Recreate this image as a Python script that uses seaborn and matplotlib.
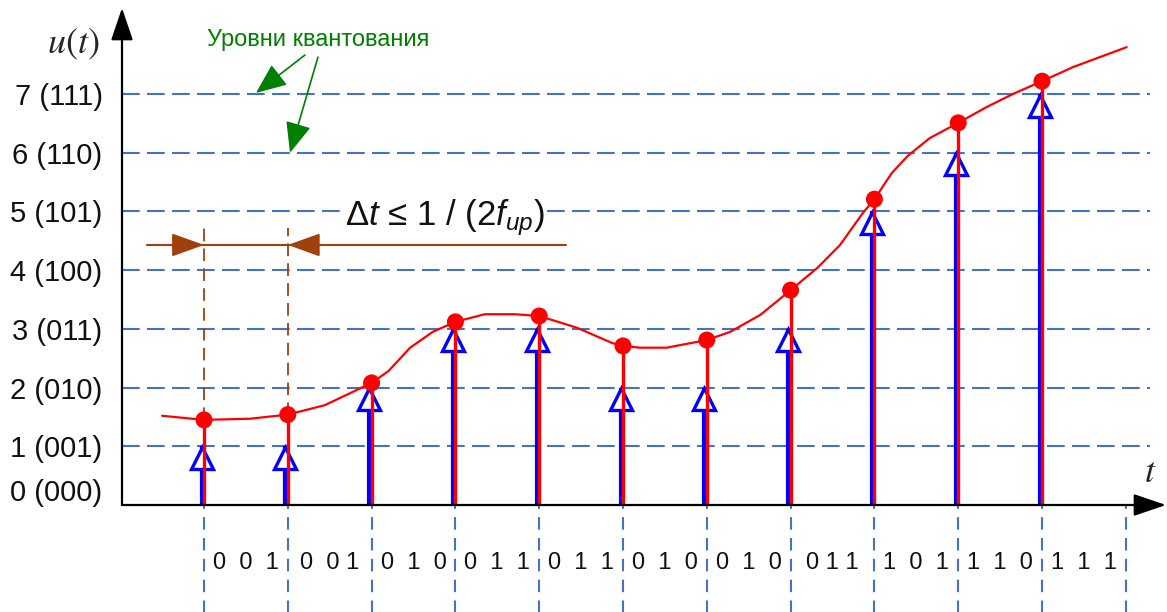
import seaborn as sns
import matplotlib.pyplot as plt
import matplotlib.transforms as mtransforms

sns.set_theme(style="white")
plt.rcParams['font.family'] = ['Liberation Sans', 'DejaVu Sans']
plt.rcParams['mathtext.fontset'] = 'custom'
plt.rcParams['mathtext.rm'] = 'Liberation Sans'
plt.rcParams['mathtext.it'] = 'Liberation Sans:italic'

# отсчёты сигнала
sample_t = [1, 2, 3, 4, 5, 6, 7, 8, 9, 10, 11]
sample_u = [1.45, 1.54, 2.08, 3.12, 3.22, 2.71, 2.81, 3.66, 5.21, 6.51, 7.22]
quant_u = [1, 1, 2, 3, 3, 2, 2, 3, 5, 6, 7]

# непрерывный сигнал u(t)
curve_t = [0.5, 1.0, 1.55, 2.0, 2.44, 2.78, 3.0, 3.2, 3.46, 3.73,
           4.0, 4.35, 4.71, 5.0, 5.45, 5.87, 6.0, 6.2, 6.52, 7.0,
           7.28, 7.64, 8.0, 8.32, 8.59, 8.86, 9.0, 9.21, 9.4, 9.66,
           10.0, 10.34, 10.65, 11.0, 11.37, 12.01]
curve_u = [1.52, 1.45, 1.47, 1.54, 1.70, 1.93, 2.08, 2.28, 2.68, 2.95,
           3.12, 3.25, 3.25, 3.22, 3.02, 2.76, 2.71, 2.68, 2.68, 2.81,
           2.95, 3.24, 3.66, 4.04, 4.43, 4.97, 5.21, 5.66, 5.95, 6.25,
           6.51, 6.78, 7.0, 7.22, 7.46, 7.80]

levels = [0, 1, 2, 3, 4, 5, 6, 7]
level_labels = ["0 (000)", "1 (001)", "2 (010)", "3 (011)", "4 (100)",
                "5 (101)", "6 (110)", "7 (111)"]
bit_labels = ["0  0  1", "0  0 1", "0  1  0", "0  1  1", "0  1  1", "0  1  0",
              "0  1  0", "0 1 1", "1  0  1", "1  1  0", "1  1  1"]

LEVEL_C = '#4472C4'
BROWN = '#A0410D'
GREEN = '#008000'

W, H = 1167, 612
fig = plt.figure(figsize=(W / 100, H / 100), dpi=100)
# оси: начало в (122, 505) px, стрелки до (1166, 8)
ax = fig.add_axes([122 / W, (H - 505) / H, (1166 - 122) / W, (505 - 8) / H])
x_lo = 1 - 82 / 83.8
x_hi = 1 + (1166 - 204) / 83.8
y_hi = (505 - 8) / 58.7
ax.set_xlim(x_lo, x_hi)
ax.set_ylim(0, y_hi)
for s in ax.spines.values():
    s.set_visible(False)
ax.set_xticks([])
ax.set_yticks(levels)
ax.set_yticklabels(level_labels)
ax.tick_params(axis='y', length=0, pad=14, labelsize=21, labelcolor='#111111')
lab0 = ax.get_yticklabels()[0]
lab0.set_transform(lab0.get_transform() + mtransforms.ScaledTranslation(0, 0.15, fig.dpi_scale_trans))
ax.grid(False)

# уровни квантования
ax.hlines(levels[1:], x_lo, 1 + (1150 - 204) / 83.8, colors=LEVEL_C, lw=1.5,
          linestyles=(0, (8.5, 3.5)), zorder=1)

# вертикальные пунктиры под осью времени
ax.vlines(sample_t + [12], -2.0, 0, colors=LEVEL_C, lw=1.5,
          linestyles=(0, (6, 4)), clip_on=False, zorder=1)

# кодовые комбинации
for t, lab in zip(sample_t, bit_labels):
    ax.text(t + 0.5, -0.99, lab, ha='center', va='center', fontsize=17,
            color='#111111', clip_on=False)

# оси со стрелками
arrow_kw = dict(arrowstyle='-|>,head_length=1.0,head_width=0.34', color='black',
                lw=1.6, shrinkA=0, shrinkB=0, mutation_scale=20)
ax.annotate('', xy=(x_hi, 0), xytext=(x_lo, 0), arrowprops=arrow_kw,
            annotation_clip=False, zorder=6)
ax.annotate('', xy=(x_lo, y_hi), xytext=(x_lo, 0), arrowprops=arrow_kw,
            annotation_clip=False, zorder=6)
ax.text(-0.56, 7.84, '$u(t)$', fontsize=26, ha='center', va='center',
        math_fontfamily='stix')
ax.text(12.29, 0.55, '$t$', fontsize=26, ha='center', va='center',
        math_fontfamily='stix')

# квантованные отсчёты (синие)
blue_off = ax.transData + mtransforms.ScaledTranslation(-2.5 / 100, 0, fig.dpi_scale_trans)
ax.vlines(sample_t, 0, quant_u, colors='#0000FF', lw=3, transform=blue_off, zorder=3)
tri_off = ax.transData + mtransforms.ScaledTranslation(-2.5 / 100, -11.5 / 100, fig.dpi_scale_trans)
ax.plot(sample_t, quant_u, ls='none', marker='^', ms=15.5, mew=2.4, mec='#0000FF',
        mfc='white', transform=tri_off, zorder=4)

# отсчёты исходного сигнала (красные)
ax.vlines(sample_t, 0, sample_u, colors='#FF0000', lw=2.4, zorder=5)
sns.lineplot(x=curve_t, y=curve_u, sort=False, color='#FF0000', lw=1.6, ax=ax, zorder=5)
sns.scatterplot(x=sample_t, y=sample_u, color='#FF0000', s=150, edgecolor='none',
                ax=ax, zorder=7)

# интервал дискретизации
ax.vlines(sample_t[:2], sample_u[:2], 4.72, colors=BROWN, lw=1.3,
          linestyles=(0, (7, 4)), zorder=2)
ax.plot([0.32, 5.32], [4.43, 4.43], color=BROWN, lw=1.5, zorder=2)
br_kw = dict(arrowstyle='-|>,head_length=1.0,head_width=0.36', color=BROWN,
             lw=1.5, shrinkA=0, shrinkB=0, mutation_scale=20)
ax.annotate('', xy=(1, 4.43), xytext=(0.62, 4.43), arrowprops=br_kw, zorder=3)
ax.annotate('', xy=(2, 4.43), xytext=(2.4, 4.43), arrowprops=br_kw, zorder=3)
ax.text(3.876, 4.89, r'$\Delta t$ ≤ 1 / (2$f_{up}$)', fontsize=25, ha='center',
        va='center', color='#111111', zorder=3,
        bbox=dict(facecolor='white', edgecolor='none', pad=1))

# подпись уровней
ax.text(2.36, 7.92, 'Уровни квантования', fontsize=17, color=GREEN,
        ha='center', va='center')
gr_kw = dict(arrowstyle='-|>,head_length=1.0,head_width=0.42', color=GREEN,
             lw=1.2, shrinkA=0, shrinkB=0, mutation_scale=19)
ax.annotate('', xy=(1.62, 7.02), xytext=(2.205, 7.666), arrowprops=gr_kw, zorder=3)
ax.annotate('', xy=(2.026, 6.0), xytext=(2.36, 7.63), arrowprops=gr_kw, zorder=3)

if ax.get_legend() is not None:
    ax.get_legend().remove()
fig.savefig('out.png', dpi=100, facecolor='white')
